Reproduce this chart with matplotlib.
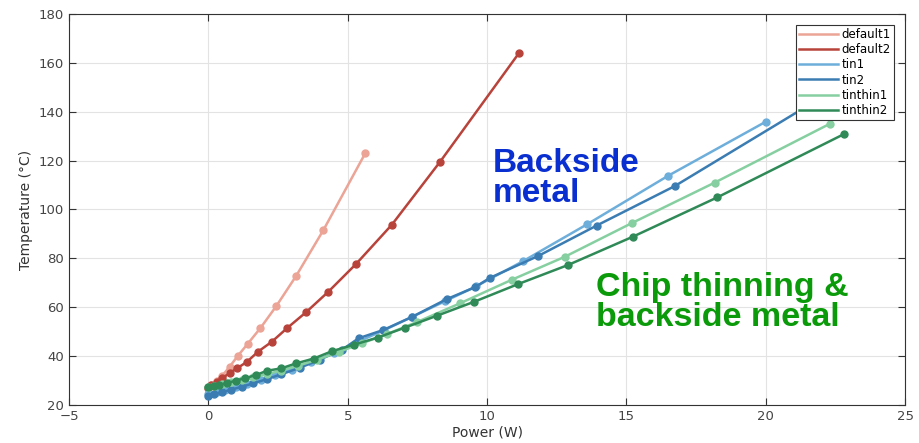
import numpy as np
import matplotlib
matplotlib.use("Agg")
import matplotlib.pyplot as plt

# data (Power in W, Temperature in C)
default1_x = [0, 0.1, 0.3, 0.5, 0.76, 1.05, 1.41, 1.87, 2.44, 3.15, 4.13, 5.63]
default1_y = [27, 28, 30, 32, 35.6, 40, 45, 51.5, 60.5, 72.8, 91.6, 123]

default2_x = [0, 0.1, 0.3, 0.5, 0.76, 1.03, 1.39, 1.78, 2.28, 2.82, 3.51, 4.31, 5.30, 6.58, 8.32, 11.14]
default2_y = [27, 28, 29.5, 31, 33, 35, 37.7, 41.8, 45.9, 51.4, 58, 66.4, 77.7, 93.7, 119.6, 163.9]

tin1_x = [0, 0.3, 0.6, 1.0, 1.4, 1.9, 2.4, 3.0, 3.7, 4.5, 5.4, 6.3, 7.3, 8.5, 9.6, 11.3, 13.6, 16.5, 20.0]
tin1_y = [24.3, 25.2, 26.1, 27.3, 28.6, 30.3, 32.2, 34.5, 37.6, 41.3, 46, 50.6, 56, 62.5, 68.5, 78.9, 94, 113.8, 135.9]

tin2_x = [0, 0.2, 0.5, 0.8, 1.2, 1.6, 2.1, 2.6, 3.3, 4.0, 4.8, 5.39, 6.28, 7.3, 8.55, 9.57, 10.1, 11.84, 13.93, 16.74, 22.6]
tin2_y = [23.8, 24.4, 25.3, 26.2, 27.5, 28.8, 30.6, 32.5, 35.3, 38.6, 42.6, 47.3, 50.7, 56, 63.3, 68.2, 72, 81, 93.4, 109.6, 150]

tinthin1_x = [0, 0.2, 0.5, 0.8, 1.2, 1.6, 2.1, 2.6, 3.2, 3.9, 4.7, 5.5, 6.4, 7.5, 9.03, 10.88, 12.8, 15.19, 18.17, 22.29]
tinthin1_y = [27.5, 27.9, 28.6, 29.3, 30.2, 31.3, 32.6, 34.1, 36, 38.5, 41.8, 45.2, 49, 54, 61.6, 71.2, 80.7, 94.4, 111, 135]

tinthin2_x = [0, 0.2, 0.4, 0.67, 1.0, 1.33, 1.72, 2.1, 2.62, 3.14, 3.78, 4.43, 5.21, 6.08, 7.04, 8.22, 9.55, 11.12, 12.91, 15.24, 18.27, 22.8]
tinthin2_y = [27.3, 27.8, 28.3, 29, 30, 31, 32.3, 34, 35, 37, 39, 42, 44.6, 47.6, 51.6, 56.6, 62.3, 69.5, 77.3, 88.9, 105, 130.8]

names = ["default1", "default2", "tin1", "tin2", "tinthin1", "tinthin2"]
xs = [default1_x, default2_x, tin1_x, tin2_x, tinthin1_x, tinthin2_x]
ys = [default1_y, default2_y, tin1_y, tin2_y, tinthin1_y, tinthin2_y]
colors = ["#eba496", "#b8433b", "#6eaedb", "#3b7db3", "#86cfa0", "#2f8a58"]

fig = plt.figure(figsize=(9.19, 4.43), dpi=100)
ax = fig.add_axes([0.0751, 0.0858, 0.9097, 0.8826])

for x, y, c, n in zip(xs, ys, colors, names):
    ax.plot(x, y, color=c, lw=1.8, marker="o", ms=5, label=n)

ax.set_xlim(-5, 25)
ax.set_ylim(20, 180)
ax.set_xticks(np.arange(-5, 26, 5))
ax.set_yticks(np.arange(20, 181, 20))
ax.grid(True, color="#e3e3e3", lw=0.8)
ax.set_axisbelow(True)
ax.tick_params(direction="in", top=True, right=True, labelsize=9.5,
               labelcolor="#444444", color="#333333", length=5)
for s in ax.spines.values():
    s.set_color("#333333")
ax.set_xlabel("Power (W)", fontsize=10, color="#333333", labelpad=2)
ax.set_ylabel("Temperature (°C)", fontsize=10, color="#333333")

leg = ax.legend(loc="upper right", fontsize=8.5, frameon=True, fancybox=False,
                edgecolor="#333333", handlelength=3.3, handletextpad=0.3,
                labelspacing=0.18, borderpad=0.3, borderaxespad=0.9,
                framealpha=1)
leg.get_frame().set_linewidth(0.8)
for h in leg.get_lines():
    h.set_marker("")
leg.set_zorder(10)

ax.text(10.2, 125, "Backside\nmetal", color="#0a2fd0", fontsize=24,
        fontweight="bold", family="Liberation Sans", va="top", ha="left",
        linespacing=0.95)
ax.text(13.9, 74.5, "Chip thinning &\nbackside metal", color="#0a9a0a", fontsize=24.5,
        fontweight="bold", family="Liberation Sans", va="top", ha="left",
        linespacing=0.95)

fig.savefig("out.png", dpi=100)
